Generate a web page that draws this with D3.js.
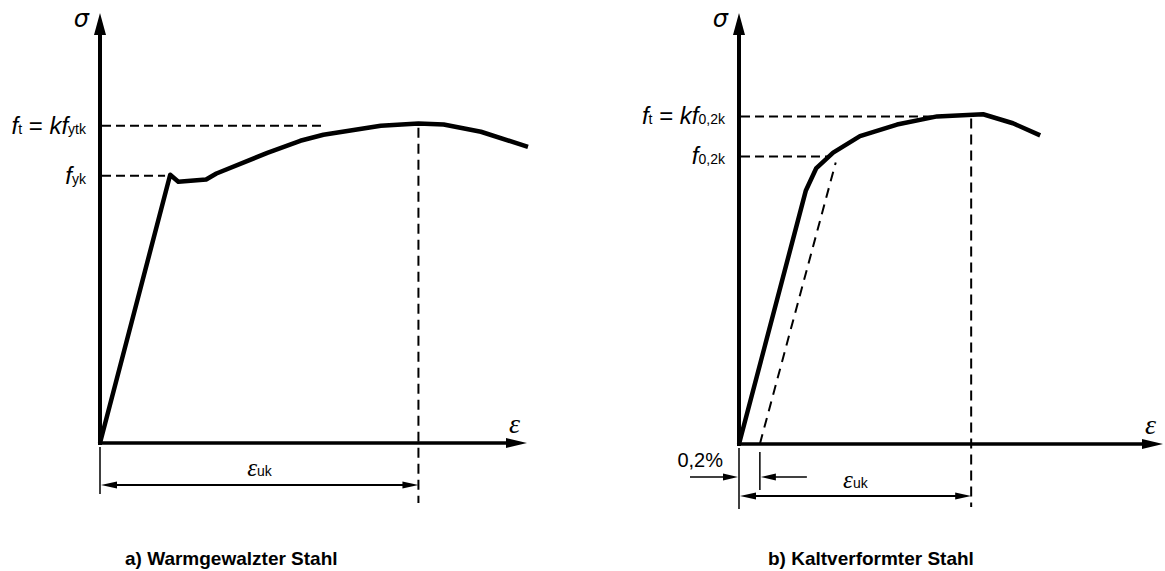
<!DOCTYPE html>
<html>
<head>
<meta charset="utf-8">
<script src="https://cdn.jsdelivr.net/npm/d3@7"></script>
<style>
  html, body { margin: 0; padding: 0; background: #fff; }
  svg { display: block; }
  text { font-family: "Liberation Sans", Arial, sans-serif; fill: #000; }
</style>
</head>
<body>
<svg id="chart" width="1165" height="571"></svg>
<script>
// Stress-strain curves (strain and stress in relative units, 0..100)
const hotStrain   = [0, 16.4, 18.3, 24.8, 27.2, 39.1, 46.8, 52.2, 65.6, 74.4, 80.3, 89.0, 100];
const hotStress   = [0, 62.3, 60.7, 61.2, 62.6, 67.4, 70.2, 71.6, 73.7, 74.2, 74.0, 72.3, 68.8];
const coldStrain  = [0, 15.7, 18.1, 22.1, 28.4, 37.1, 46.5, 57.3, 64.3, 70.7];
const coldStress  = [0, 58.9, 64.0, 67.7, 71.5, 74.2, 76.1, 76.6, 74.5, 71.7];

// Characteristic stress levels and how far their guide lines run (strain)
const hotLevels      = [73.7, 62.1];
const hotLevelEnds   = [52.0, 15.2];
const coldLevels     = [76.1, 66.8];
const coldLevelEnds  = [46.5, 21.1];

// Characteristic strain at maximum load
const hotEpsUk  = 74.4;
const coldEpsUk = 54.5;
// Permanent strain offset for the 0,2 % proof stress
const coldOffset = 4.9;

const captions = ["a) Warmgewalzter Stahl", "b) Kaltverformter Stahl"];

const svg = d3.select("#chart");

function arrowHead(g, tx, ty, dir, len, half) {
  let pts;
  if (dir === "up")    pts = [[tx, ty], [tx - half, ty + len], [tx + half, ty + len]];
  if (dir === "right") pts = [[tx, ty], [tx - len, ty - half], [tx - len, ty + half]];
  if (dir === "left")  pts = [[tx, ty], [tx + len, ty - half], [tx + len, ty + half]];
  g.append("path").attr("d", "M" + pts.map(p => p.join(",")).join("L") + "Z").attr("fill", "#000");
}

function drawPanel(cfg) {
  const g = svg.append("g");
  const x = d3.scaleLinear().domain([0, 100]).range(cfg.xRange);
  const y = d3.scaleLinear().domain([0, 100]).range(cfg.yRange);
  const ox = x(0), oy = y(0);

  // axes
  g.append("line").attr("x1", ox).attr("y1", oy + 2).attr("x2", ox).attr("y2", cfg.yTip + 20)
    .attr("stroke", "#000").attr("stroke-width", 4);
  arrowHead(g, ox, cfg.yTip, "up", 22, 6);
  g.append("line").attr("x1", ox - 2).attr("y1", oy).attr("x2", cfg.xTip - 18).attr("y2", oy)
    .attr("stroke", "#000").attr("stroke-width", 3.5);
  arrowHead(g, cfg.xTip, oy, "right", 21, 5);

  // horizontal guide lines for characteristic stresses
  cfg.levels.forEach((v, i) => {
    g.append("line").attr("x1", ox + 2).attr("x2", x(cfg.levelEnds[i]))
      .attr("y1", y(v)).attr("y2", y(v))
      .attr("stroke", "#000").attr("stroke-width", 2).attr("stroke-dasharray", "9,5");
  });

  // vertical guide at eps_uk
  g.append("line").attr("x1", x(cfg.epsUk)).attr("x2", x(cfg.epsUk))
    .attr("y1", y(cfg.levels[0]) + 2).attr("y2", oy + cfg.vEnd)
    .attr("stroke", "#000").attr("stroke-width", 2).attr("stroke-dasharray", "10,6");

  // offset line parallel to the elastic branch
  if (cfg.offset !== undefined) {
    const E = cfg.stress[1] / cfg.strain[1];
    const top = cfg.levels[1];
    g.append("line").attr("x1", x(cfg.offset)).attr("y1", y(0))
      .attr("x2", x(cfg.offset + top / E)).attr("y2", y(top) + 6)
      .attr("stroke", "#000").attr("stroke-width", 2).attr("stroke-dasharray", "10,7");
  }

  // stress-strain curve
  const line = d3.line().x((d, i) => x(cfg.strain[i])).y((d, i) => y(cfg.stress[i]));
  g.append("path").attr("d", line(cfg.strain)).attr("fill", "none")
    .attr("stroke", "#000").attr("stroke-width", 4.5).attr("stroke-linejoin", "round");

  // axis symbols
  g.append("text").attr("x", ox - 11).attr("y", cfg.yTip + 14).attr("text-anchor", "end")
    .style("font-family", "'DejaVu Sans', sans-serif").style("font-style", "italic")
    .style("font-size", "24px").text("σ");
  g.append("text").attr("x", cfg.xTip - 18).attr("y", oy - 10)
    .style("font-family", "'Liberation Serif', serif").style("font-style", "italic")
    .style("font-size", "28px").text("ε");

  // level labels
  cfg.labels.forEach((lab, i) => {
    const t = g.append("text").attr("x", ox - 14).attr("y", y(cfg.levels[i]) + 8)
      .attr("text-anchor", "end").style("font-size", "24px");
    lab.forEach(part => {
      const s = t.append("tspan").text(part.t);
      if (part.i) s.style("font-style", "italic");
      if (part.sub) s.style("font-size", "14px");
    });
  });

  // dimension line for eps_uk
  const dy = oy + cfg.dimY;
  g.append("line").attr("x1", ox).attr("x2", ox).attr("y1", oy + 4).attr("y2", oy + cfg.tickEnd)
    .attr("stroke", "#000").attr("stroke-width", 1.5);
  g.append("line").attr("x1", ox + 12).attr("x2", x(cfg.epsUk) - 12).attr("y1", dy).attr("y2", dy)
    .attr("stroke", "#000").attr("stroke-width", 2);
  arrowHead(g, ox + 1, dy, "left", 16, 3.5);
  arrowHead(g, x(cfg.epsUk), dy, "right", 16, 3.5);
  const lt = g.append("text").attr("x", x(cfg.epsUk / 2) - 12).attr("y", dy - cfg.labUp);
  lt.append("tspan").style("font-family", "'Liberation Serif', serif").style("font-style", "italic")
    .style("font-size", "25px").text("ε");
  lt.append("tspan").style("font-size", "14px").text("uk");

  // 0,2 % offset marker
  if (cfg.offset !== undefined) {
    const ay = oy + 33;
    const xo = x(cfg.offset);
    g.append("line").attr("x1", xo).attr("x2", xo).attr("y1", oy + 8).attr("y2", oy + 46)
      .attr("stroke", "#000").attr("stroke-width", 1.5);
    g.append("line").attr("x1", ox - 49).attr("x2", ox - 12).attr("y1", ay).attr("y2", ay)
      .attr("stroke", "#000").attr("stroke-width", 1.5);
    arrowHead(g, ox - 1, ay, "right", 15, 3.5);
    g.append("line").attr("x1", xo + 12).attr("x2", xo + 47).attr("y1", ay).attr("y2", ay)
      .attr("stroke", "#000").attr("stroke-width", 1.5);
    arrowHead(g, xo + 1, ay, "left", 15, 3.5);
    g.append("text").attr("x", ox - 16).attr("y", oy + 23).attr("text-anchor", "end")
      .style("font-size", "20px").text("0,2%");
  }

  g.append("text").attr("x", cfg.capX).attr("y", 565)
    .style("font-size", "19px").style("font-weight", "bold").text(cfg.caption);
}

drawPanel({
  xRange: [100, 528], yRange: [443, 12.5], yTip: 13, xTip: 527,
  strain: hotStrain, stress: hotStress,
  levels: hotLevels, levelEnds: hotLevelEnds, epsUk: hotEpsUk,
  vEnd: 60, dimY: 42, tickEnd: 51, labUp: 9,
  labels: [
    [{t: "f", i: 1}, {t: "t", sub: 1}, {t: " = "}, {t: "kf", i: 1}, {t: "ytk", sub: 1}],
    [{t: "f", i: 1}, {t: "yk", sub: 1}]
  ],
  caption: captions[0], capX: 125
});

drawPanel({
  xRange: [739, 1165], yRange: [444, 13.5], yTip: 13, xTip: 1163,
  strain: coldStrain, stress: coldStress,
  levels: coldLevels, levelEnds: coldLevelEnds, epsUk: coldEpsUk, offset: coldOffset,
  vEnd: 63, dimY: 52, tickEnd: 65, labUp: 8,
  labels: [
    [{t: "f", i: 1}, {t: "t", sub: 1}, {t: " = "}, {t: "kf", i: 1}, {t: "0,2k", sub: 1}],
    [{t: "f", i: 1}, {t: "0,2k", sub: 1}]
  ],
  caption: captions[1], capX: 768
});
</script>
</body>
</html>
